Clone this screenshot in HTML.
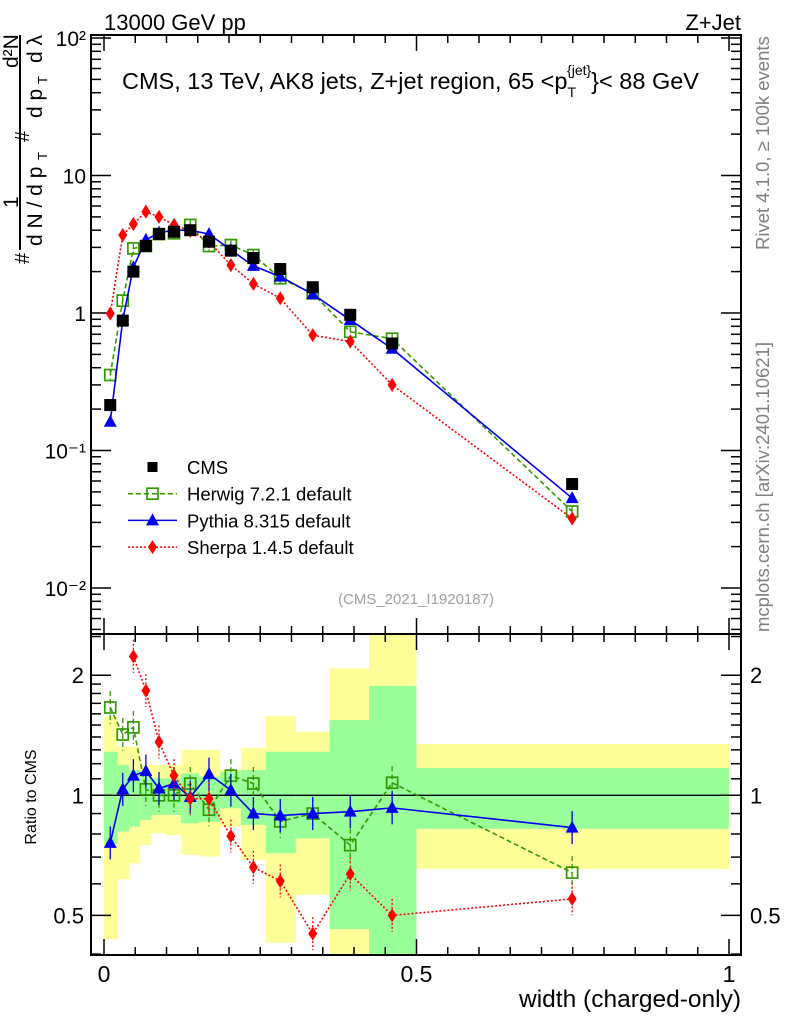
<!DOCTYPE html>
<html><head><meta charset="utf-8"><style>
body{margin:0;background:#fff}
svg{display:block;font-family:"Liberation Sans",sans-serif}
</style></head><body>
<svg id="c" width="786" height="1024" viewBox="0 0 786 1024">
<text x="104" y="30" font-size="22">13000 GeV pp</text>
<text x="741" y="30" font-size="22" text-anchor="end">Z+Jet</text>
<g fill="#808080" font-size="18.5">
<text transform="translate(769,250) rotate(-90)">Rivet 4.1.0, ≥ 100k events</text>
<text transform="translate(769,632) rotate(-90)">mcplots.cern.ch [arXiv:2401.10621]</text>
</g>
<g font-size="21">
<line x1="20" y1="35" x2="20" y2="250" stroke="#000" stroke-width="2"/>
<text transform="translate(29,264) rotate(-90)" font-size="20">#</text>
<text transform="translate(18,208) rotate(-90)">1</text>
<text transform="translate(42,246) rotate(-90)">d N / d p</text>
<text transform="translate(47,160) rotate(-90)" font-size="13">T</text>
<text transform="translate(29,142) rotate(-90)" font-size="20">#</text>
<text transform="translate(42,118) rotate(-90)">d p</text>
<text transform="translate(47,84) rotate(-90)" font-size="13">T</text>
<text transform="translate(18,68) rotate(-90)">d²N</text>
<text transform="translate(42,63) rotate(-90)">d λ</text>
</g>
<text x="122" y="89" font-size="23.5">CMS, 13 TeV, AK8 jets, Z+jet region, 65 &lt;p<tspan font-size="14" dy="8">T</tspan><tspan font-size="14" dx="-9" dy="-22">{jet}</tspan><tspan dy="14">}&lt; 88 GeV</tspan></text>
<text x="416" y="604" font-size="15" fill="#a0a0a0" text-anchor="middle">(CMS_2021_I1920187)</text>
<text x="741" y="1007" font-size="24.5" text-anchor="end">width (charged-only)</text>
<text transform="translate(36,797) rotate(-90)" font-size="16" text-anchor="middle">Ratio to CMS</text>
<g id="plot"></g>
</svg>
<script>
const edges=[0,0.022,0.04,0.058,0.076,0.099,0.123,0.152,0.186,0.219,0.259,0.307,0.361,0.424,0.5,1.0];
const xs=[0.010,0.030,0.047,0.067,0.088,0.112,0.138,0.168,0.203,0.239,0.282,0.334,0.394,0.461,0.749];
const cms=[0.214,0.88,2.0,3.07,3.75,3.9,4.0,3.3,2.84,2.51,2.09,1.54,0.97,0.60,0.057];
const herwig=[0.354,1.23,2.95,3.07,3.75,3.8,4.37,3.07,3.12,2.64,1.79,1.39,0.73,0.65,0.036];
const pythia=[0.162,0.89,2.15,3.4,3.84,4.0,4.0,3.75,2.87,2.2,1.84,1.37,0.89,0.55,0.045];
const sherpa=[0.99,3.69,4.44,5.46,5.0,4.37,3.96,3.3,2.23,1.63,1.28,0.69,0.62,0.30,0.032];
const rHerwig=[1.66,1.42,1.48,1.035,1.0,1.0,1.07,0.92,1.12,1.07,0.86,0.90,0.75,1.075,0.64];
const rPythia=[0.76,1.035,1.12,1.15,1.04,1.07,0.99,1.13,1.03,0.90,0.89,0.90,0.91,0.93,0.83];
const rSherpa=[2.23,1.83,1.36,1.12,0.98,0.98,0.79,0.66,0.61,0.45,0.635,0.50,0.55];
const rSherpaX=[0.047,0.067,0.088,0.112,0.138,0.168,0.203,0.239,0.282,0.334,0.394,0.461,0.749];
const bandInLo=[0.755,0.811,0.834,0.867,0.893,0.893,0.851,0.859,0.928,0.843,0.716,0.78,0.462,0.40,0.824];
const bandInHi=[1.286,1.191,1.157,1.113,1.103,1.103,1.135,1.113,1.146,1.157,1.286,1.286,1.544,1.88,1.17];
const bandOutLo=[0.436,0.616,0.675,0.751,0.803,0.795,0.709,0.702,0.834,0.689,0.427,0.563,0.40,0.40,0.654];
const bandOutHi=[1.574,1.323,1.323,1.191,1.191,1.191,1.30,1.30,1.16,1.316,1.58,1.443,2.08,2.53,1.345];
const mainTicks=["10\u207B\u00B2","10\u207B\u00B9","1","10","10\u00B2"];
const ratioTicks=[0.5,1,2];
const xTicks=[0,0.5,1];

const NS="http://www.w3.org/2000/svg";
const g=document.getElementById('plot');
const L=91,R=741,T=35,M=634,B=955;
const X=v=>104+v*625;
const Y=v=>313-Math.log10(v)*137.5;
const YR=v=>Math.min(B,Math.max(M,795.3-Math.log10(v)*399));
function el(t,a,p){const e=document.createElementNS(NS,t);for(const k in a)e.setAttribute(k,a[k]);(p||g).appendChild(e);return e;}

for(let i=0;i<15;i++){
  const x0=X(edges[i]),x1=X(edges[i+1]);
  const y=el('rect',{x:x0,y:YR(bandOutHi[i]),width:x1-x0,height:YR(bandOutLo[i])-YR(bandOutHi[i]),fill:'#ffff99'});
  
  
  const gr=el('rect',{x:x0,y:YR(bandInHi[i]),width:x1-x0,height:YR(bandInLo[i])-YR(bandInHi[i]),fill:'#99ff99'});
  
  
}
el('line',{x1:L,x2:R,y1:YR(1),y2:YR(1),stroke:'#000','stroke-width':1.3});

el('rect',{x:L,y:T,width:R-L,height:M-T,fill:'none',stroke:'#000','stroke-width':2});
el('rect',{x:L,y:M,width:R-L,height:B-M,fill:'none',stroke:'#000','stroke-width':2});

for(let k=0;k<=20;k++){
  const v=k*0.05,x=X(v),len=(k%10==0)?16:8;
  [T,M].forEach(y=>el('line',{x1:x,x2:x,y1:y,y2:y+len,stroke:'#000','stroke-width':1.5}));
  [M,B].forEach(y=>el('line',{x1:x,x2:x,y1:y,y2:y-len,stroke:'#000','stroke-width':1.5}));
}
xTicks.forEach(v=>{const t=el('text',{x:X(v),y:982,'font-size':23,'text-anchor':'middle'});t.textContent=String(v);

});

for(let d=-3;d<=2;d++){for(let m=1;m<=9;m++){const v=m*Math.pow(10,d),y=Y(v);if(y<T||y>M)continue;
  const len=m==1?20:10;
  el('line',{x1:L,x2:L+len,y1:y,y2:y,stroke:'#000','stroke-width':1.5});
  el('line',{x1:R,x2:R-len,y1:y,y2:y,stroke:'#000','stroke-width':1.5});}}
mainTicks.forEach((s,i)=>{const t=el('text',{x:86,y:Y(Math.pow(10,i-2))+8,'font-size':21,'text-anchor':'end'});t.textContent=s;

});

[0.4,0.5,0.6,0.7,0.8,0.9,1,1.1,1.2,1.3,1.4,1.5,1.6,1.7,1.8,1.9,2,2.5].forEach(v=>{const y=YR(v);if(y<=M||y>=B)return;
  const len=ratioTicks.includes(v)?20:10;
  el('line',{x1:L,x2:L+len,y1:y,y2:y,stroke:'#000','stroke-width':1.5});
  el('line',{x1:R,x2:R-len,y1:y,y2:y,stroke:'#000','stroke-width':1.5});});
ratioTicks.forEach(v=>{
  const t=el('text',{x:84,y:YR(v)+8,'font-size':22,'text-anchor':'end'});t.textContent=String(v);
  
  
  const t2=el('text',{x:750,y:YR(v)+8,'font-size':22});t2.textContent=String(v);
  
  });

function marker(type,x,y,c){
  if(type=='sq'){return el('rect',{x:x-6,y:y-6,width:12,height:12,fill:'#000'});}
  if(type=='osq'){return el('rect',{x:x-5.5,y:y-5.5,width:11,height:11,fill:'none',stroke:c,'stroke-width':1.7});}
  if(type=='tri'){return el('path',{d:`M${x},${y-7}L${x+6.5},${y+5}L${x-6.5},${y+5}Z`,fill:c});}
  if(type=='dia'){return el('path',{d:`M${x},${y-7}L${x+4.5},${y}L${x},${y+7}L${x-4.5},${y}Z`,fill:c});}
}
function series(xv,yv,fy,col,dash,type,name,err){
  const pts=xv.map((x,i)=>X(x)+','+fy(yv[i])).join(' ');
  if(col){const pl=el('polyline',{points:pts,fill:'none',stroke:col,'stroke-width':1.6,'stroke-dasharray':dash});
  
  }
  xv.forEach((x,i)=>{
    const y=fy(yv[i]);
    if(err){const e1=fy(yv[i]*(1+err)),e2=fy(yv[i]/(1+err));
      el('line',{x1:X(x),x2:X(x),y1:e1,y2:e2,stroke:col||'#000','stroke-width':1.3,'stroke-dasharray':dash});}
    const m=marker(type,X(x),y,col);
    
    });
}
series(xs,herwig,Y,'#339900','5,3','osq','herwig',0.08);
series(xs,pythia,Y,'#0000ee','','tri','pythia',0.06);
series(xs,sherpa,Y,'#ff0000','2,2','dia','sherpa',0.08);
series(xs,cms,Y,null,'','sq','cms',0);
series(xs,rHerwig,YR,'#339900','5,3','osq','herwig-ratio',0.1);
series(xs,rPythia,YR,'#0000ee','','tri','pythia-ratio',0.1);
series(rSherpaX,rSherpa,YR,'#ff0000','2,2','dia','sherpa-ratio',0.1);

const leg=[['CMS',null,'','sq'],['Herwig 7.2.1 default','#339900','5,3','osq'],['Pythia 8.315 default','#0000ee','','tri'],['Sherpa 1.4.5 default','#ff0000','2,2','dia']];
leg.forEach((l,i)=>{const y=467+i*26.7;
  if(l[1]){el('line',{x1:128,x2:177,y1:y,y2:y,stroke:l[1],'stroke-width':1.5,'stroke-dasharray':l[2]});}
  const m=marker(l[3],152.5,y,l[1]);if(l[3]=='sq'){m.setAttribute('width',10);m.setAttribute('height',10);m.setAttribute('x',147.5);m.setAttribute('y',y-5);}
  const t=el('text',{x:187,y:y+7,'font-size':18.5});t.textContent=l[0];
  
  });
</script>
</body></html>
